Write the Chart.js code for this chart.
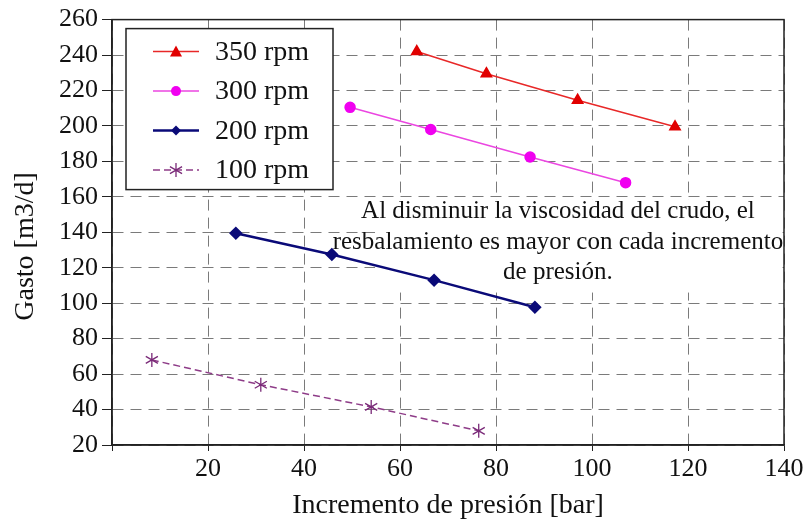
<!DOCTYPE html>
<html>
<head>
<meta charset="utf-8">
<script src="https://cdn.jsdelivr.net/npm/chart.js@4.4.1/dist/chart.umd.min.js"></script>
<style>
  html, body { margin: 0; padding: 0; background: #fff; }
  #wrap { width: 807px; height: 525px; }
</style>
</head>
<body>
<div id="wrap"><canvas id="chart"></canvas></div>
<script>
// values
const seriesNames = ['350 rpm', '300 rpm', '200 rpm', '100 rpm'];
const rpm350x = [63.5, 78, 97, 117.3];
const rpm350y = [242, 229.5, 214.5, 199.5];
const rpm300x = [49.6, 66.4, 87.1, 107];
const rpm300y = [210.5, 198, 182.5, 168];
const rpm200x = [25.8, 45.8, 67.1, 88.1];
const rpm200y = [139.5, 127.5, 113, 97.7];
const rpm100x = [8.3, 31, 54, 76.4];
const rpm100y = [68, 54, 41.5, 28];

const xTicks = [0, 20, 40, 60, 80, 100, 120, 140];
const yTicks = [20, 40, 60, 80, 100, 120, 140, 160, 180, 200, 220, 240, 260];

const yTitle = 'Gasto [m3/d]';
const xTitle = 'Incremento de presión [bar]';
const noteLines = [
  'Al disminuir la viscosidad del crudo, el',
  'resbalamiento es mayor con cada incremento',
  'de presión.'
];

const serif = "'Liberation Serif', 'DejaVu Serif', serif";

function pts(xs, ys) {
  return xs.map(function (x, i) { return { x: x, y: ys[i] }; });
}

// white box with the note, drawn over the grid but under the lines
const notePlugin = {
  id: 'note',
  beforeDatasetsDraw: function (chart) {
    const ctx = chart.ctx;
    const sx = chart.scales.x, sy = chart.scales.y;
    const x1 = sx.getPixelForValue(54.8), x2 = sx.getPixelForValue(139.7);
    const y1 = sy.getPixelForValue(158.7), y2 = sy.getPixelForValue(106);
    ctx.save();
    ctx.fillStyle = '#fff';
    ctx.fillRect(x1, y1, x2 - x1, y2 - y1);
    ctx.fillStyle = '#111';
    ctx.font = '25px ' + serif;
    ctx.textAlign = 'center';
    ctx.textBaseline = 'middle';
    const cx = sx.getPixelForValue(92.9);
    const y0 = sy.getPixelForValue(151.5);
    noteLines.forEach(function (t, i) {
      ctx.fillText(t, cx, y0 + i * 30.5);
    });
    ctx.restore();
  }
};

// y title sits a little below the middle of the axis in the original
const yTitlePlugin = {
  id: 'yTitle',
  afterDraw: function (chart) {
    const ctx = chart.ctx;
    const sy = chart.scales.y;
    ctx.save();
    ctx.translate(26, sy.getPixelForValue(132));
    ctx.rotate(-Math.PI / 2);
    ctx.fillStyle = '#111';
    ctx.font = '28px ' + serif;
    ctx.textAlign = 'center';
    ctx.textBaseline = 'middle';
    ctx.fillText(yTitle, 0, 0);
    ctx.restore();
  }
};

function drawMarker(ctx, style, x, y, r, color) {
  ctx.save();
  ctx.fillStyle = color;
  ctx.strokeStyle = color;
  ctx.beginPath();
  if (style === 'triangle') {
    ctx.moveTo(x, y - r);
    ctx.lineTo(x + r, y + r * 0.8);
    ctx.lineTo(x - r, y + r * 0.8);
    ctx.closePath();
    ctx.fill();
  } else if (style === 'circle') {
    ctx.arc(x, y, r, 0, Math.PI * 2);
    ctx.fill();
  } else if (style === 'rectRot') {
    ctx.moveTo(x, y - r);
    ctx.lineTo(x + r, y);
    ctx.lineTo(x, y + r);
    ctx.lineTo(x - r, y);
    ctx.closePath();
    ctx.fill();
  } else {
    ctx.lineWidth = 1.3;
    for (let k = 0; k < 3; k++) {
      const a = Math.PI / 2 + k * Math.PI / 3;
      ctx.moveTo(x + r * Math.cos(a), y + r * Math.sin(a));
      ctx.lineTo(x - r * Math.cos(a), y - r * Math.sin(a));
    }
    ctx.stroke();
  }
  ctx.restore();
}

// boxed legend inside the plot + solid frame
const legendPlugin = {
  id: 'boxLegend',
  afterDraw: function (chart) {
    const ctx = chart.ctx;
    const a = chart.chartArea;
    ctx.save();
    ctx.strokeStyle = '#222';
    ctx.lineWidth = 1.5;
    ctx.strokeRect(a.left, a.top, a.right - a.left, a.bottom - a.top);

    const bx = a.left + 14, by = a.top + 9, bw = 207, bh = 161;
    ctx.fillStyle = '#fff';
    ctx.fillRect(bx, by, bw, bh);
    ctx.strokeRect(bx, by, bw, bh);

    chart.data.datasets.forEach(function (ds, i) {
      const y = by + 23 + i * 39.5;
      ctx.save();
      ctx.strokeStyle = ds.borderColor;
      ctx.lineWidth = ds.borderWidth;
      ctx.setLineDash(ds.borderDash || []);
      ctx.beginPath();
      ctx.moveTo(bx + 27, y);
      ctx.lineTo(bx + 73, y);
      ctx.stroke();
      ctx.restore();
      drawMarker(ctx, ds.pointStyle, bx + 50, y, ds.pointRadius, ds.pointBackgroundColor);
      ctx.fillStyle = '#111';
      ctx.font = '28px ' + serif;
      ctx.textAlign = 'left';
      ctx.textBaseline = 'middle';
      ctx.fillText(ds.label, bx + 89, y + 1);
    });
    ctx.restore();
  }
};

// star markers for 100 rpm drawn as 6-arm asterisks
const starPlugin = {
  id: 'asterisk',
  afterDatasetsDraw: function (chart) {
    const ctx = chart.ctx;
    chart.data.datasets.forEach(function (ds, i) {
      if (ds.pointStyle !== 'star') return;
      chart.getDatasetMeta(i).data.forEach(function (p) {
        drawMarker(ctx, 'star', p.x, p.y, ds.pointRadius, ds.pointBackgroundColor);
      });
    });
  }
};

new Chart(document.getElementById('chart'), {
  type: 'scatter',
  data: {
    datasets: [
      {
        label: seriesNames[0],
        data: pts(rpm350x, rpm350y),
        showLine: true,
        borderColor: 'rgb(232,40,40)',
        borderWidth: 1.5,
        pointStyle: 'triangle',
        pointRadius: 6,
        pointBackgroundColor: 'rgb(225,0,0)',
        pointBorderColor: 'rgb(225,0,0)'
      },
      {
        label: seriesNames[1],
        data: pts(rpm300x, rpm300y),
        showLine: true,
        borderColor: 'rgb(235,70,225)',
        borderWidth: 1.5,
        pointStyle: 'circle',
        pointRadius: 5,
        pointBackgroundColor: 'rgb(240,0,240)',
        pointBorderColor: 'rgb(240,0,240)'
      },
      {
        label: seriesNames[2],
        data: pts(rpm200x, rpm200y),
        showLine: true,
        borderColor: '#0a0a78',
        borderWidth: 2.5,
        pointStyle: 'rectRot',
        pointRadius: 5,
        pointBackgroundColor: '#0a0a78',
        pointBorderColor: '#0a0a78'
      },
      {
        label: seriesNames[3],
        data: pts(rpm100x, rpm100y),
        showLine: true,
        borderColor: '#8e3c88',
        borderWidth: 1.5,
        borderDash: [7, 4],
        pointStyle: 'star',
        pointRadius: 7,
        pointBorderWidth: 0,
        pointBackgroundColor: '#7a2a78',
        pointBorderColor: 'rgba(0,0,0,0)'
      }
    ]
  },
  options: {
    responsive: true,
    maintainAspectRatio: false,
    animation: false,
    events: [],
    layout: { padding: { left: 0, right: 23, top: 19, bottom: 0 } },
    plugins: {
      legend: { display: false },
      tooltip: { enabled: false }
    },
    scales: {
      x: {
        type: 'linear',
        min: 0,
        max: 140,
        afterBuildTicks: function (s) { s.ticks = xTicks.map(function (v) { return { value: v }; }); },
        afterFit: function (s) { s.height = 80; },
        grid: { color: '#7a7a7a', lineWidth: 1, tickLength: 6, tickColor: '#222' },
        border: { display: true, color: '#222', width: 1.5, dash: [11, 7] },
        ticks: {
          color: '#111',
          font: { family: serif, size: 26 },
          padding: 3,
          maxRotation: 0,
          callback: function (v) { return v === 0 ? '' : v; }
        },
        title: {
          display: true,
          text: xTitle,
          color: '#111',
          font: { family: serif, size: 28 },
          padding: { top: 0, bottom: 3 }
        }
      },
      y: {
        type: 'linear',
        min: 20,
        max: 260,
        afterBuildTicks: function (s) { s.ticks = yTicks.map(function (v) { return { value: v }; }); },
        afterFit: function (s) { s.width = 112; },
        grid: { color: '#7a7a7a', lineWidth: 1, tickLength: 10, tickColor: '#222' },
        border: { display: true, color: '#222', width: 1.5, dash: [11, 7] },
        ticks: {
          color: '#111',
          font: { family: serif, size: 26 },
          padding: 4
        },
        title: { display: false }
      }
    }
  },
  plugins: [notePlugin, starPlugin, legendPlugin, yTitlePlugin]
});
</script>
</body>
</html>
